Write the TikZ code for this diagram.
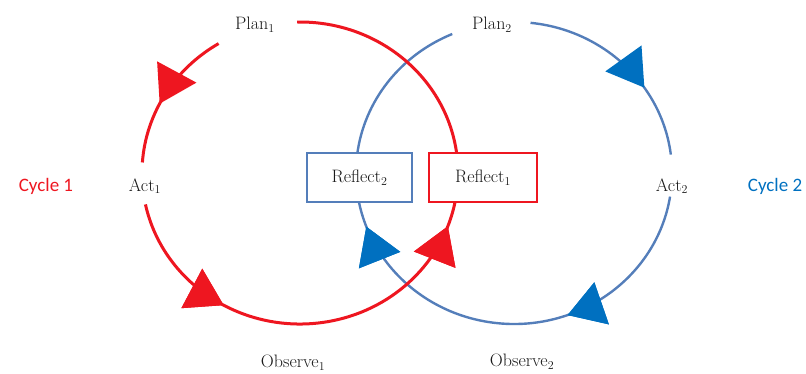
\documentclass[tikz,border=0pt]{standalone}
\usepackage{fontspec}
\usepackage{tikz}
\usetikzlibrary{arrows.meta,decorations.markings}

\newfontfamily\cyclefont{Carlito}
\definecolor{cycleRed}{RGB}{238,22,32}
\definecolor{cycleBlue}{RGB}{84,126,186}
\definecolor{tipBlue}{RGB}{0,112,192}

\begin{document}
\begin{tikzpicture}[
    x=1pt, y=1pt,
    % Etiquetas de las fases del ciclo
    stageLabel/.style={inner sep=1pt, text=black!90, font=\fontsize{18}{20}\selectfont},
    cycleLabel/.style={inner sep=1pt, font=\cyclefont\fontsize{19}{21}\selectfont},
    % Cajas de reflexion (tapan el arco que pasa por ellas)
    reflectBox/.style={fill=white, line width=2.4pt, minimum height=49pt, inner sep=0pt, text=black!90, font=\fontsize{18}{20}\selectfont},
    % Arcos de cada ciclo
    redArc/.style={draw=cycleRed, line width=3pt},
    blueArc/.style={draw=cycleBlue, line width=2.4pt},
    % Punta triangular grande en medio del arco
    midArrow/.style 2 args={postaction={decorate}, decoration={markings,
        mark=at position #1 with {\arrow{Triangle[length=36pt, width=44pt, color=#2]}}}}
]
    \useasboundingbox (0,0) rectangle (806,373);

    % --- CENTROS DE LOS DOS CICLOS ---
    \coordinate (redCenter)  at (300,200);
    \coordinate (blueCenter) at (514,200);

    % --- ETIQUETAS ---
    \node[stageLabel] (plan1)    at (255,348) {Plan$_1$};
    \node[stageLabel] (act1)     at (145,187) {Act$_1$};
    \node[stageLabel] (observe1) at (293,10)  {Observe$_1$};
    \node[stageLabel] (plan2)    at (492,348) {Plan$_2$};
    \node[stageLabel] (act2)     at (672,187) {Act$_2$};
    \node[stageLabel] (observe2) at (522,11)  {Observe$_2$};

    \node[cycleLabel, text=cycleRed] (cycle1) at (46,187)  {Cycle 1};
    \node[cycleLabel, text=tipBlue]  (cycle2) at (775,187) {Cycle 2};

    % --- PUNTOS DE SALIDA DE CADA ARCO ---
    \path (redCenter) ++(121:158 and 151) coordinate (planOneOut);
    \path (redCenter) ++(192:158 and 151) coordinate (actOneOut);
    \path (redCenter) ++(7:158 and 151)   coordinate (reflectOneOut);
    \path (blueCenter) ++(84:158 and 151)  coordinate (planTwoOut);
    \path (blueCenter) ++(351:158 and 151) coordinate (actTwoOut);
    \path (blueCenter) ++(173:158 and 151) coordinate (reflectTwoOut);

    % --- CICLO 2 (sentido horario) ---
    \draw[blueArc, midArrow={0.65}{tipBlue}] (planTwoOut)
        arc[start angle=84, end angle=7, x radius=158, y radius=151];
    \draw[blueArc, midArrow={0.38}{tipBlue}, midArrow={0.94}{tipBlue}] (actTwoOut)
        arc[start angle=351, end angle=191, x radius=158, y radius=151];
    \draw[blueArc] (reflectTwoOut)
        arc[start angle=173, end angle=113, x radius=158, y radius=151];

    % --- CICLO 1 (sentido antihorario) ---
    \draw[redArc, midArrow={0.58}{cycleRed}] (planOneOut)
        arc[start angle=121, end angle=176, x radius=158, y radius=151];
    \draw[redArc, midArrow={0.31}{cycleRed}, midArrow={0.94}{cycleRed}] (actOneOut)
        arc[start angle=192, end angle=349, x radius=158, y radius=151];
    \draw[redArc] (reflectOneOut)
        arc[start angle=7, end angle=91, x radius=158, y radius=151];

    % --- CAJAS DE REFLEXION ---
    \node[reflectBox, draw=cycleBlue, minimum width=105pt] (reflect2) at (359.5,195.5) {Reflect$_2$};
    \node[reflectBox, draw=cycleRed, minimum width=108pt]  (reflect1) at (483,195.5)   {Reflect$_1$};

\end{tikzpicture}
\end{document}
